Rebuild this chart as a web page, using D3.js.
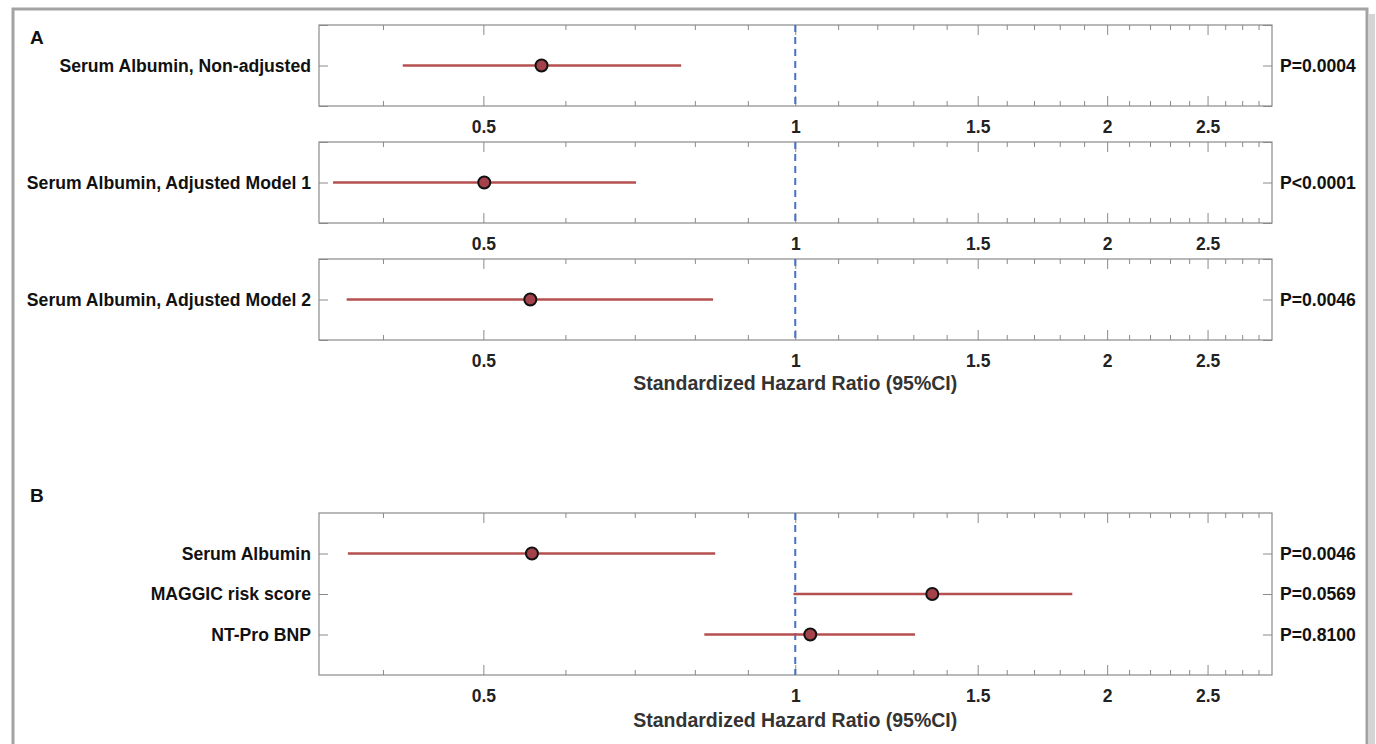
<!doctype html>
<html>
<head>
<meta charset="utf-8">
<title>Standardized Hazard Ratio forest plot</title>
<style>
  body { margin: 0; background: #fff; }
  svg text { font-family: "Liberation Sans", Arial, Helvetica, sans-serif; font-weight: bold; }
</style>
</head>
<body>
<script src="https://d3js.org/d3.v7.min.js"></script>
<script>
// panel A: three models of serum albumin
var labelsA = ["Serum Albumin, Non-adjusted", "Serum Albumin, Adjusted Model 1", "Serum Albumin, Adjusted Model 2"];
var hrA = [0.569, 0.501, 0.555];
var lowA = [0.418, 0.358, 0.369];
var highA = [0.776, 0.702, 0.833];
var pA = ["P=0.0004", "P<0.0001", "P=0.0046"];

// panel B: albumin vs other predictors
var labelsB = ["Serum Albumin", "MAGGIC risk score", "NT-Pro BNP"];
var hrB = [0.557, 1.356, 1.034];
var lowB = [0.370, 0.996, 0.817];
var highB = [0.837, 1.851, 1.305];
var pB = ["P=0.0046", "P=0.0569", "P=0.8100"];

// x axis ticks (log scale)
var majorTicks = [0.5, 1, 1.5, 2, 2.5];
var minorTicks = [0.4, 0.6, 0.7, 0.8, 0.9, 1.1, 1.2, 1.3, 1.4, 1.6, 1.7, 1.8, 1.9,
                  2.1, 2.2, 2.3, 2.4, 2.6, 2.7, 2.8];
var xDomain = [0.347, 2.885];

var width = 1376, height = 744;
var left = 319, right = 1272;

var svg = d3.select("body").append("svg")
    .attr("width", width)
    .attr("height", height);

// outer frame
svg.append("rect")
    .attr("x", 1369).attr("y", 14).attr("width", 6).attr("height", 760)
    .attr("fill", "#d4d4d4");
svg.append("rect")
    .attr("x", 13).attr("y", 9).attr("width", 1354).attr("height", 800)
    .attr("fill", "none").attr("stroke", "#a3a3a3").attr("stroke-width", 3);

var x = d3.scaleLog().domain(xDomain).range([left, right]);

// draws one panel of the forest plot
function drawPanel(top, bottom, labels, hr, lo, hi, pvals, endTicks) {
    var n = labels.length;
    var y = d3.scaleLinear().domain([0, n + 1]).range([top, bottom]);
    var rows = d3.range(1, n + 1);
    var g = svg.append("g");

    // box
    g.append("rect")
        .attr("x", left).attr("y", top)
        .attr("width", right - left).attr("height", bottom - top)
        .attr("fill", "none").attr("stroke", "#8a8a8a").attr("stroke-width", 1.2);

    // minor ticks bottom / top
    g.append("g").attr("transform", "translate(0," + bottom + ")")
        .call(d3.axisBottom(x).tickValues(minorTicks).tickSize(-5).tickSizeOuter(0).tickFormat(""));
    g.append("g").attr("transform", "translate(0," + top + ")")
        .call(d3.axisTop(x).tickValues(minorTicks).tickSize(-5).tickSizeOuter(0).tickFormat(""));

    // major ticks with labels
    g.append("g").attr("class", "major").attr("transform", "translate(0," + bottom + ")")
        .call(d3.axisBottom(x).tickValues(majorTicks).tickSize(-10).tickSizeOuter(0)
            .tickPadding(15).tickFormat(d3.format("")));
    g.append("g").attr("transform", "translate(0," + top + ")")
        .call(d3.axisTop(x).tickValues(majorTicks).tickSize(-10).tickSizeOuter(0).tickFormat(""));

    // y axes: row labels left, p values right
    var yTicks = endTicks ? [0].concat(rows).concat([n + 1]) : rows;
    g.append("g").attr("class", "ylab").attr("transform", "translate(" + left + ",0)")
        .call(d3.axisLeft(y).tickValues(yTicks).tickSize(-9).tickSizeOuter(0).tickPadding(8)
            .tickFormat(function(d) { return labels[d - 1] || ""; }));
    g.append("g").attr("class", "ylab").attr("transform", "translate(" + right + ",0)")
        .call(d3.axisRight(y).tickValues(yTicks).tickSize(-9).tickSizeOuter(0).tickPadding(8)
            .tickFormat(function(d) { return pvals[d - 1] || ""; }));

    g.selectAll(".domain").remove();
    g.selectAll(".tick line").attr("stroke", "#8a8a8a");
    g.selectAll(".major text").attr("font-size", 17.5).attr("fill", "#222");
    g.selectAll(".ylab text").attr("font-size", 17.6).attr("fill", "#111");

    // reference line at HR = 1
    g.append("line")
        .attr("x1", x(1)).attr("x2", x(1))
        .attr("y1", top).attr("y2", bottom)
        .attr("stroke", "#4472c4").attr("stroke-width", 2)
        .attr("stroke-dasharray", "7,5");

    // confidence intervals
    g.selectAll(".ci").data(rows).enter().append("line")
        .attr("x1", function(d) { return x(lo[d - 1]); })
        .attr("x2", function(d) { return x(hi[d - 1]); })
        .attr("y1", function(d) { return y(d); })
        .attr("y2", function(d) { return y(d); })
        .attr("stroke", "#b4504f").attr("stroke-width", 2.4);

    // point estimates
    g.selectAll(".pt").data(rows).enter().append("circle")
        .attr("cx", function(d) { return x(hr[d - 1]); })
        .attr("cy", function(d) { return y(d); })
        .attr("r", 6)
        .attr("fill", "#a3424a").attr("stroke", "#111").attr("stroke-width", 2);
}

// panel A: three stacked sub-plots
for (var i = 0; i < 3; i++) {
    var tops = [25, 142, 259];
    drawPanel(tops[i], tops[i] + 81, [labelsA[i]], [hrA[i]], [lowA[i]], [highA[i]], [pA[i]], true);
}
drawPanel(513, 675, labelsB, hrB, lowB, highB, pB, false);

// axis titles
[383, 720].forEach(function(yy) {
    svg.append("text")
        .attr("x", x(1)).attr("y", yy + 7)
        .attr("text-anchor", "middle")
        .attr("font-size", 19.5).attr("fill", "#333")
        .text("Standardized Hazard Ratio (95%CI)");
});

// panel letters
svg.append("text").attr("x", 30).attr("y", 44).attr("font-size", 19).attr("fill", "#111").text("A");
svg.append("text").attr("x", 30).attr("y", 502).attr("font-size", 19).attr("fill", "#111").text("B");
</script>
</body>
</html>
